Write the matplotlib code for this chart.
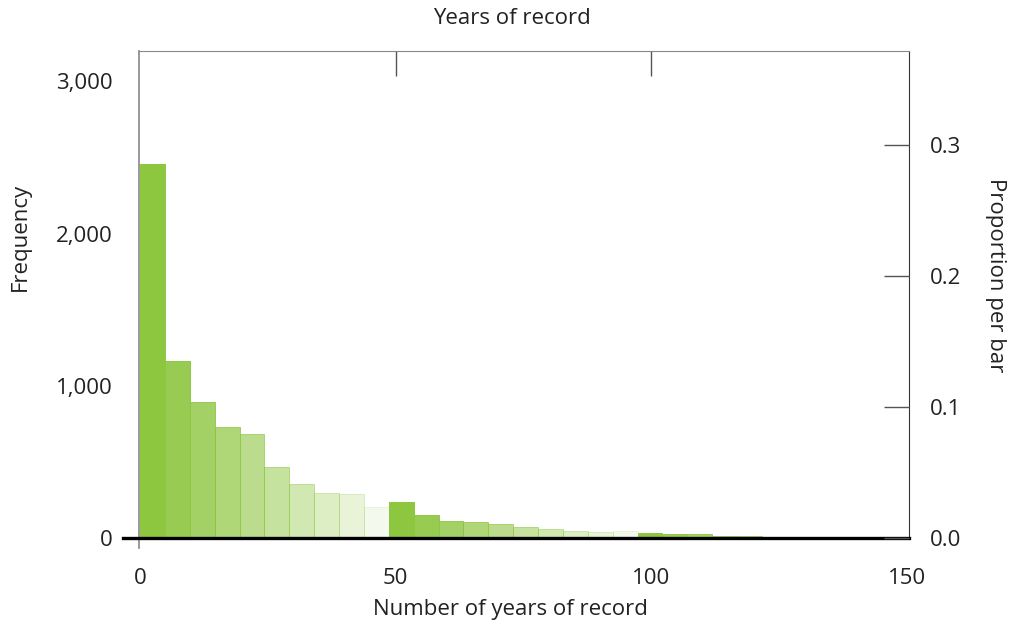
" histogram of years of record "
import matplotlib
matplotlib.use("Agg")
import matplotlib.pyplot as plt
import numpy as np
from matplotlib.colors import to_rgba

plt.rcParams.update({'font.family': ['Open Sans', 'DejaVu Sans'], 'font.size': 16})

# 30 bins from 0 to the longest record (146 years)
max_years = 146
n_bins = 30
counts = [2460, 1160, 895, 730, 685, 468, 356, 291, 284, 205,
          233, 152, 113, 100, 87, 73, 60, 47, 40, 47,
          34, 27, 21, 14, 14, 4, 3, 2, 2, 1]
x_ticks = [0, 50, 100, 150]
y_ticks = [0, 1000, 2000, 3000]
y_ticklabels = ["0", "1,000", "2,000", "3,000"]
prop_ticks = [0.0, 0.1, 0.2, 0.3]

GREEN = "#8dc63f"
TXT = "#222222"
XMIN, XMAX = -0.2, 150.4
YMAX = 3200

fig = plt.figure(figsize=(10.13, 6.28), dpi=100)
ax = fig.add_axes([0.1372, 0.1438, 0.760, 0.775])

edges = np.linspace(0, max_years, n_bins + 1)
width = edges[1] - edges[0]
for i, c in enumerate(counts):
    a = 1 - 0.1 * (i % 10)
    ax.bar(edges[i], c, width=width, align="edge",
           color=to_rgba(GREEN, a), edgecolor=to_rgba(GREEN, min(1, a + 0.06)),
           linewidth=0.7, zorder=2)

ax.set_xlim(XMIN, XMAX)
ax.set_ylim(0, YMAX)
ax.set_xticks(x_ticks)
ax.set_yticks(y_ticks)
ax.set_yticklabels(y_ticklabels)

total = sum(counts)
ax2 = ax.twinx()
ax2.set_ylim(0, YMAX / total)
ax2.set_yticks(prop_ticks)
ax2.set_yticklabels(["%.1f" % p for p in prop_ticks])
ax2.tick_params(axis="y", direction="in", length=18, width=1, color="#555555",
                pad=15, labelcolor=TXT)
for s in ax2.spines.values():
    s.set_visible(False)

# twinx turns the left ticks back on, so set them after it
ax.tick_params(axis="x", bottom=False, top=True, labeltop=False, direction="in",
               length=18, width=1, color="#555555", pad=22, labelcolor=TXT)
ax.tick_params(axis="y", left=False, right=False, direction="in", pad=19,
               labelcolor=TXT)
# top ticks only at 50 and 100
xt = ax.xaxis.get_major_ticks()
xt[0].tick2line.set_visible(False)
xt[-1].tick2line.set_visible(False)

for s in ["left", "bottom"]:
    ax.spines[s].set_visible(False)
ax.spines["top"].set_color("#888888")
ax.spines["right"].set_color("#333333")

# left axis line reaching below the baseline, and the heavy baseline
ax.plot([XMIN, XMIN], [-68, YMAX], color="#888888", lw=1.2, clip_on=False, zorder=1)
ax.plot([-3.3, XMAX], [0, 0], color="black", lw=2.4, clip_on=False, zorder=5)

fig.text(512 / 1013, 1 - 18 / 628, "Years of record", ha="center", va="center", color=TXT)
fig.text(510 / 1013, 1 - 610 / 628, "Number of years of record", ha="center", va="center", color=TXT)
fig.text(20 / 1013, 1 - 237 / 628, "Frequency", ha="center", va="center", rotation=90, color=TXT)
fig.text(995 / 1013, 1 - 275 / 628, "Proportion per bar", ha="center", va="center", rotation=270, color=TXT)

fig.savefig("out.png", dpi=100)
